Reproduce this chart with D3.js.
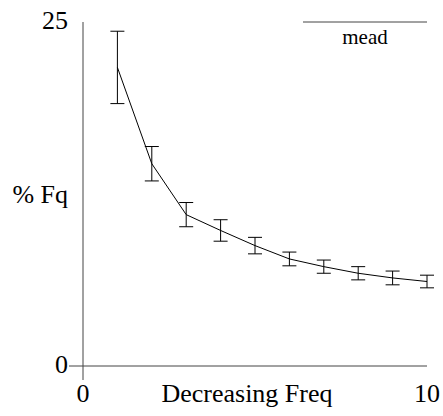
<!DOCTYPE html>
<html>
<head>
<meta charset="utf-8">
<script src="https://cdn.jsdelivr.net/npm/d3@7"></script>
<style>
body { margin: 0; background: #fff; }
</style>
</head>
<body>
<div id="container"></div>
<script>
var ranks = [1, 2, 3, 4, 5, 6, 7, 8, 9, 10];
var meanFq = [21.7, 14.7, 11.0, 9.85, 8.75, 7.78, 7.22, 6.74, 6.4, 6.14];
var errFq = [2.63, 1.25, 0.88, 0.78, 0.6, 0.5, 0.48, 0.48, 0.5, 0.46];
var xTicks = [0, 10];
var yTicks = [0, 25];
var legendLabel = "mead";

var width = 443, height = 416;
var serif = "'Liberation Serif', Tinos, 'Times New Roman', serif";

var x = d3.scaleLinear().domain([0, 10]).range([83, 427]);
var y = d3.scaleLinear().domain([0, 25]).range([366, 22]);

var svg = d3.select("#container").append("svg")
	.attr("width", width)
	.attr("height", height)
	.style("font-family", serif);

// axes, drawn long past the origin like the original plot
svg.append("line")
	.attr("x1", x(0)).attr("x2", x(0))
	.attr("y1", y(25)).attr("y2", y(0) + 14)
	.attr("stroke", "#444").attr("stroke-width", 1);
svg.append("line")
	.attr("x1", x(0) - 14).attr("x2", x(10))
	.attr("y1", y(0)).attr("y2", y(0))
	.attr("stroke", "#444").attr("stroke-width", 1);

svg.selectAll(".ylab")
	.data(yTicks)
	.enter().append("text")
	.attr("class", "ylab")
	.attr("x", 68)
	.attr("y", function(d) { return y(d) + 7; })
	.attr("text-anchor", "end")
	.style("font-size", "26px")
	.text(function(d) { return d; });

svg.selectAll(".xlab")
	.data(xTicks)
	.enter().append("text")
	.attr("class", "xlab")
	.attr("x", function(d) { return x(d); })
	.attr("y", 402)
	.attr("text-anchor", "middle")
	.style("font-size", "26px")
	.text(function(d) { return d; });

svg.append("text")
	.attr("x", 247).attr("y", 402)
	.attr("text-anchor", "middle")
	.style("font-size", "26px")
	.text("Decreasing Freq");

svg.append("text")
	.attr("x", 68).attr("y", 203)
	.attr("text-anchor", "end")
	.style("font-size", "26px")
	.text("% Fq");

var data = ranks.map(function(r, i) { return {x: r, m: meanFq[i], e: errFq[i]}; });

svg.append("path")
	.datum(data)
	.attr("fill", "none")
	.attr("stroke", "#000")
	.attr("stroke-width", 1)
	.attr("d", d3.line()
		.x(function(d) { return x(d.x); })
		.y(function(d) { return y(d.m); }));

var bars = svg.selectAll(".err")
	.data(data)
	.enter().append("g")
	.attr("class", "err")
	.attr("stroke", "#000")
	.attr("stroke-width", 1);

bars.append("line")
	.attr("x1", function(d) { return x(d.x); })
	.attr("x2", function(d) { return x(d.x); })
	.attr("y1", function(d) { return y(d.m + d.e); })
	.attr("y2", function(d) { return y(d.m - d.e); });
bars.append("line")
	.attr("x1", function(d) { return x(d.x) - 7; })
	.attr("x2", function(d) { return x(d.x) + 7; })
	.attr("y1", function(d) { return y(d.m + d.e); })
	.attr("y2", function(d) { return y(d.m + d.e); });
bars.append("line")
	.attr("x1", function(d) { return x(d.x) - 7; })
	.attr("x2", function(d) { return x(d.x) + 7; })
	.attr("y1", function(d) { return y(d.m - d.e); })
	.attr("y2", function(d) { return y(d.m - d.e); });

// legend
svg.append("line")
	.attr("x1", 303).attr("x2", 427)
	.attr("y1", 22).attr("y2", 22)
	.attr("stroke", "#444").attr("stroke-width", 1);
svg.append("text")
	.attr("x", 365).attr("y", 44)
	.attr("text-anchor", "middle")
	.style("font-size", "21px")
	.text(legendLabel);
</script>
</body>
</html>
